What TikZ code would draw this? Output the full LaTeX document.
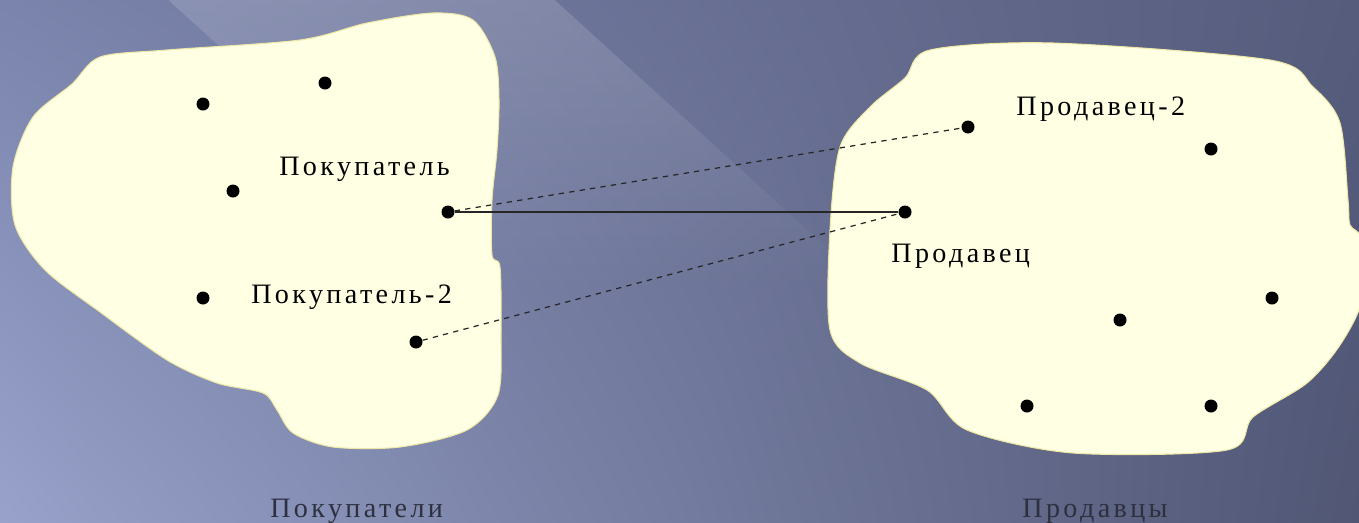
\documentclass[tikz,border=0pt]{standalone}
\usepackage{fontspec}
\setmainfont{Liberation Serif}
\newfontfamily\lblfont[LetterSpace=12]{Liberation Serif}
\usepackage{tikz}
\usetikzlibrary{positioning, shadings, fadings}

\definecolor{bgtl}{HTML}{7B84AC}
\definecolor{bgtr}{HTML}{565C7C}
\definecolor{bgbl}{HTML}{98A2CA}
\definecolor{bgbr}{HTML}{505674}
\definecolor{blobfill}{HTML}{FFFFE3}
\definecolor{blobedge}{HTML}{EEE8A8}
\definecolor{capgray}{HTML}{2E3040}
\tikzfading[name=bandfade, top color=transparent!0, bottom color=transparent!100]

\begin{document}
\begin{tikzpicture}[x=0.02cm, y=-0.02cm,
    agent/.style={circle, fill=black, inner sep=0pt, minimum size=0.26cm},
    lbl/.style={anchor=base west, inner sep=0pt, font=\lblfont\fontsize{16}{19}\selectfont},
    grouplbl/.style={lbl, text=capgray},
    blob/.style={fill=blobfill, draw=blobedge, line width=0.6pt},
    link/.style={line width=0.7pt, black!85},
    dlink/.style={link, dash pattern=on 3pt off 3pt}]
  \useasboundingbox (0,0) rectangle (1359,522);
  % Background
  \shade[upper left=bgtl, upper right=bgtr, lower left=bgbl, lower right=bgbr]
    (0,0) rectangle (1359,522);
  \begin{scope}
    \clip (0,0) rectangle (1359,522);
    \begin{scope}[shift={(555,0)}, rotate=-42.3]
      \fill[white, opacity=0.26, path fading=bandfade]
        (-300,0) -- (430,0) -- (130,260) -- (-300,260) -- cycle;
    \end{scope}
  \end{scope}
  % Buyers
  \draw[blob] plot[smooth cycle, tension=0.5] coordinates
    {(100,57) (167,50) (300,40) (367,23) (433,13) (473,20) (495,57) (499,100)
     (497,150) (492,200) (492,255) (500,267) (501,333) (498,395) (467,430)
     (400,447) (333,447) (293,433) (277,410) (263,393) (217,383) (167,360)
     (100,312) (45,270) (15,225) (13,167) (33,117) (72,84)};
  % Sellers
  \draw[blob] plot[smooth cycle, tension=0.5] coordinates
    {(930,50) (1053,43) (1270,60) (1313,87) (1340,123) (1348,200) (1350,225)
     (1362,240) (1362,300) (1340,345) (1307,383) (1253,417) (1227,450)
     (1073,453) (967,430) (927,390) (860,363) (830,330) (830,230) (840,147)
     (870,107) (905,78)};
  % Dots
  \node[agent] (b3) at (203,104) {};
  \node[agent] (b4) at (325,83) {};
  \node[agent] (b5) at (233,191) {};
  \node[agent] (b1) at (448,212) {};
  \node[agent] (b6) at (203,298) {};
  \node[agent] (b2) at (416,342) {};
  \node[agent] (s2) at (968,127) {};
  \node[agent] (s3) at (1211,149) {};
  \node[agent] (s1) at (905,212) {};
  \node[agent] (s4) at (1272,298) {};
  \node[agent] (s5) at (1120,320) {};
  \node[agent] (s6) at (1027,406) {};
  \node[agent] (s7) at (1211,406) {};
  % Labels
  \node[lbl] (lb1) at (279,175) {Покупатель};
  \node[lbl] (lb2) at (251,303) {Покупатель-2};
  \node[lbl] (ls2) at (1016,115) {Продавец-2};
  \node[lbl] (ls1) at (891,262) {Продавец};
  \node[grouplbl] (cb) at (270,517) {Покупатели};
  \node[grouplbl] (cs) at (1022,517) {Продавцы};
  % Links
  \draw[link] (b1) -- (s1);
  \draw[dlink] (b1) -- (s2);
  \draw[dlink] (b2) -- (s1);
\end{tikzpicture}
\end{document}
